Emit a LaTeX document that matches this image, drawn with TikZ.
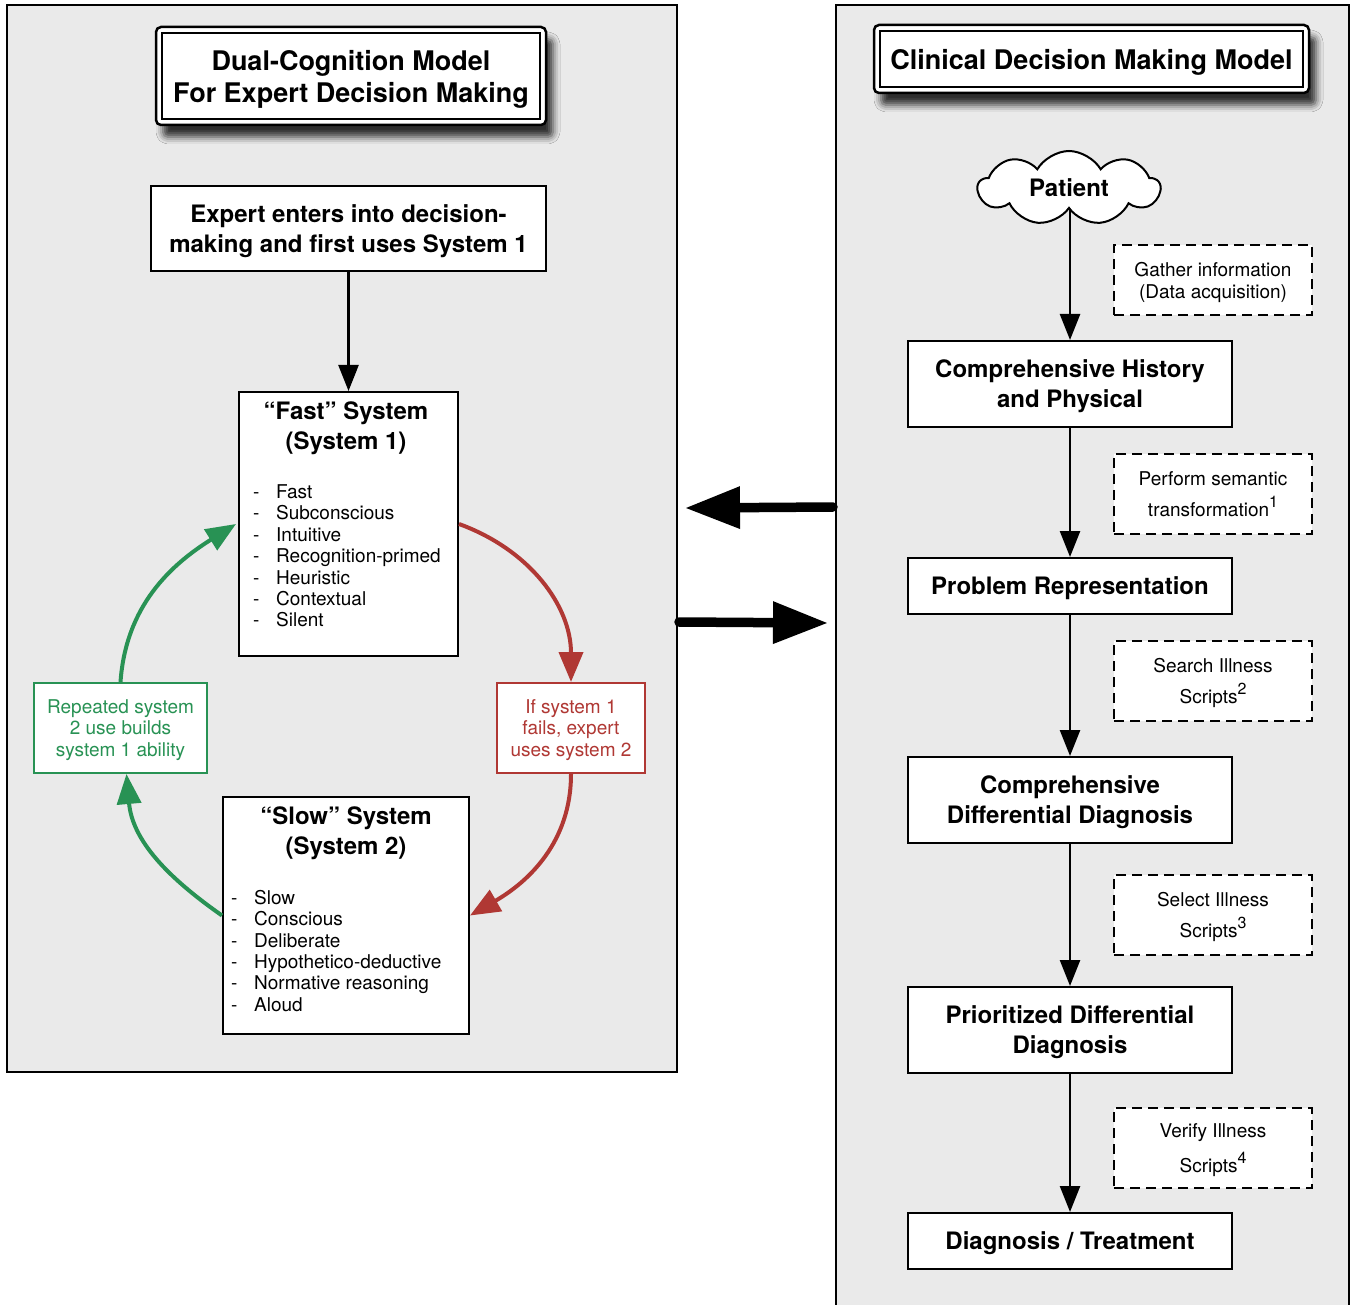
\documentclass[tikz,border=0pt]{standalone}
\usepackage{fontspec}
\setmainfont{TeX Gyre Heros}
\usetikzlibrary{arrows.meta,shapes.symbols,shadows.blur}
\definecolor{panelgray}{RGB}{234,234,234}
\definecolor{myred}{RGB}{176,56,52}
\definecolor{mygreen}{RGB}{40,146,84}
\newcommand{\supnum}[1]{\raisebox{9pt}{\fontsize{16}{16}\selectfont #1}}
\tikzset{
  panel/.style={draw=black, line width=2pt, fill=panelgray},
  titlebox/.style={draw=black, line width=2.5pt, fill=white, rounded corners=5pt, align=center,
    font=\fontsize{27}{32}\selectfont\bfseries, inner sep=0pt, text depth=-4pt,
    blur shadow={shadow xshift=7pt, shadow yshift=-12pt, shadow blur radius=7pt, shadow opacity=80}},
  mainbox/.style={draw=black, line width=2pt, fill=white, align=center,
    font=\fontsize{24}{30}\selectfont\bfseries, inner sep=0pt, text depth=-3pt},
  plainbox/.style={draw=black, line width=2pt, fill=white, inner sep=0pt},
  titletext/.style={align=center, font=\fontsize{24}{30}\selectfont\bfseries, inner sep=0pt},
  listtext/.style={align=left, anchor=north west, font=\fontsize{19}{21.4}\selectfont, inner sep=0pt},
  notebox/.style={draw=black, line width=2.5pt, dash pattern=on 10pt off 6pt, fill=white, align=center,
    font=\fontsize{19}{22}\selectfont, minimum width=198pt, minimum height=80pt, inner sep=0pt, text depth=-1pt},
  colbox/.style={line width=2pt, fill=white, align=center, font=\fontsize{19}{21.5}\selectfont,
    minimum height=90pt, inner sep=0pt, text depth=0pt},
  flow/.style={line width=2.5pt, -{Triangle[length=26pt,width=20pt]}},
  loopred/.style={draw=myred, line width=4pt, -{Triangle[length=30pt,width=24pt]}},
  loopgreen/.style={draw=mygreen, line width=4pt, -{Triangle[length=30pt,width=24pt]}},
  bigarrow/.style={line width=9.5pt, line cap=round, -{Triangle[length=55pt,width=40pt]}},
}
\begin{document}
\begin{tikzpicture}[x=1pt,y=1pt]
\useasboundingbox (0,0) rectangle (1350,-1305);
\fill[white] (0,0) rectangle (1350,-1305);
% panels
\draw[panel] (7,-5) rectangle (677,-1072);
\draw[panel] (836,-5) rectangle (1349,-1330);

% titles
\node[titlebox, minimum width=390pt, minimum height=98pt] (t1) at (351,-76)
  {Dual-Cognition Model\\For Expert Decision Making};
\draw[line width=2pt] ([shift={(7pt,-7pt)}]t1.north west) rectangle ([shift={(-7pt,7pt)}]t1.south east);
\node[titlebox, minimum width=435pt, minimum height=68pt] (t2) at (1091.5,-59)
  {Clinical Decision Making Model};
\draw[line width=2pt] ([shift={(7pt,-7pt)}]t2.north west) rectangle ([shift={(-7pt,7pt)}]t2.south east);

% left side
\node[mainbox, minimum width=395pt, minimum height=85pt] (expert) at (348.5,-228.5)
  {Expert enters into decision-\\making and first uses System 1};

\node[plainbox, minimum width=219pt, minimum height=264pt] (fast) at (348.5,-524) {};
\node[titletext] (fastT) at (346,-428) {“Fast” System\\(System 1)};
\node[listtext] (fastL) at (253,-484.5) {\makebox[23pt][l]{-}Fast\\\makebox[23pt][l]{-}Subconscious\\\makebox[23pt][l]{-}Intuitive\\\makebox[23pt][l]{-}Recognition-primed\\\makebox[23pt][l]{-}Heuristic\\\makebox[23pt][l]{-}Contextual\\\makebox[23pt][l]{-}Silent};

\node[plainbox, minimum width=246pt, minimum height=237pt] (slow) at (346,-915.5) {};
\node[titletext] (slowT) at (346,-833) {“Slow” System\\(System 2)};
\node[listtext] (slowL) at (231,-890) {\makebox[23pt][l]{-}Slow\\\makebox[23pt][l]{-}Conscious\\\makebox[23pt][l]{-}Deliberate\\\makebox[23pt][l]{-}Hypothetico-deductive\\\makebox[23pt][l]{-}Normative reasoning\\\makebox[23pt][l]{-}Aloud};

\node[colbox, draw=mygreen, text=mygreen, minimum width=173pt] (green) at (120.5,-728)
  {Repeated system\\2 use builds\\system 1 ability};
\node[colbox, draw=myred, text=myred, minimum width=148pt] (red) at (571,-728)
  {If system 1\\fails, expert\\uses system 2};

\draw[flow] (expert.south) -- (fast.north);
\draw[loopred] (fast.east) to[out=-20,in=90] (red.north);
\draw[loopred] (red.south) to[out=-90,in=30] (slow.east);
\draw[loopgreen] (slow.west) to[out=145,in=-85] ([xshift=6pt]green.south);
\draw[loopgreen] (green.north) to[out=86,in=-148] ([xshift=-2pt]fast.west);

% big arrows
\coordinate (la1) at (833,-507);
\coordinate (la2) at (685,-508);
\coordinate (ra1) at (679,-622);
\coordinate (ra2) at (828,-623);
\draw[bigarrow] (la1) -- (la2);
\draw[bigarrow] (ra1) -- (ra2);

% right side
\node[cloud, cloud puffs=9, cloud puff arc=120, aspect=2.5, draw=black, line width=2pt, fill=white,
  minimum width=182pt, minimum height=74pt, inner sep=0pt, font=\fontsize{24}{30}\selectfont\bfseries]
  (patient) at (1069,-188) {Patient};
\node[mainbox, minimum width=324pt, minimum height=86pt] (b1) at (1070,-384)
  {Comprehensive History\\and Physical};
\node[mainbox, minimum width=324pt, minimum height=56pt] (b2) at (1070,-586)
  {Problem Representation};
\node[mainbox, minimum width=324pt, minimum height=86pt] (b3) at (1070,-800)
  {Comprehensive\\Differential Diagnosis};
\node[mainbox, minimum width=324pt, minimum height=86pt] (b4) at (1070,-1030)
  {Prioritized Differential\\Diagnosis};
\node[mainbox, minimum width=324pt, minimum height=56pt] (b5) at (1070,-1241)
  {Diagnosis / Treatment};

\draw[flow] (patient.south -| b1.north) -- (b1.north);
\draw[flow] (b1.south) -- (b2.north);
\draw[flow] (b2.south) -- (b3.north);
\draw[flow] (b3.south) -- (b4.north);
\draw[flow] (b4.south) -- (b5.north);

\node[notebox, minimum height=70pt] (n1) at (1213,-280) {Gather information\\(Data acquisition)};
\node[notebox] (n2) at (1213,-494) {Perform semantic\\[9pt]transformation\supnum{1}};
\node[notebox] (n3) at (1213,-681) {Search Illness\\[9pt]Scripts\supnum{2}};
\node[notebox] (n4) at (1213,-915) {Select Illness\\[9pt]Scripts\supnum{3}};
\node[notebox] (n5) at (1213,-1148) {Verify Illness\\[9pt]Scripts\supnum{4}};
\end{tikzpicture}
\end{document}
